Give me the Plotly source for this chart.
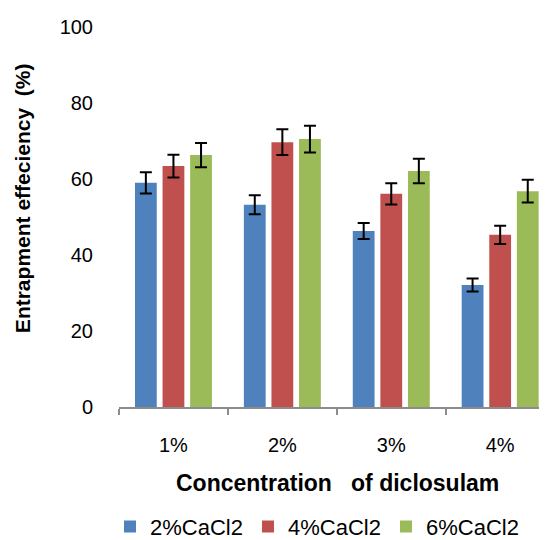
import plotly.graph_objects as go

categories = ["1%", "2%", "3%", "4%"]
series_names = ["2%CaCl2", "4%CaCl2", "6%CaCl2"]
vals_2 = [59.0, 53.2, 46.3, 32.1]
vals_4 = [63.4, 69.7, 56.1, 45.3]
vals_6 = [66.3, 70.5, 62.1, 56.8]
err_2 = [2.8, 2.5, 2.1, 1.7]
err_4 = [3.0, 3.4, 2.8, 2.4]
err_6 = [3.2, 3.5, 3.2, 3.0]
colors = ["#4F81BD", "#C0504D", "#9BBB59"]
yticks = [0, 20, 40, 60, 80, 100]

FONT = "Liberation Sans, Arial, sans-serif"

fig = go.Figure()
for name, vals, errs, col in zip(series_names, [vals_2, vals_4, vals_6],
                                 [err_2, err_4, err_6], colors):
    fig.add_trace(go.Bar(
        x=categories, y=vals, name=name, marker_color=col, marker_line_width=0,
        error_y=dict(type="data", array=errs, visible=True, color="black",
                     thickness=2, width=6),
    ))

fig.update_layout(
    width=539, height=532, autosize=False,
    margin=dict(l=111, r=0, t=19, b=133, autoexpand=False),
    paper_bgcolor="white", plot_bgcolor="white",
    barmode="group", bargap=0.24, bargroupgap=0.21,
    font=dict(family=FONT, color="black", size=20),
    showlegend=True,
    legend=dict(orientation="h", x=-0.021, xanchor="left", y=-0.315, yanchor="middle",
                font=dict(size=22), entrywidth=93, entrywidthmode="pixels",
                itemclick=False, tracegroupgap=0, bgcolor="rgba(0,0,0,0)"),
    annotations=[
        dict(text="<b>Concentration &nbsp; of diclosulam</b>", xref="paper", yref="paper",
             x=0.51, y=-0.2, xanchor="center", yanchor="middle", showarrow=False,
             font=dict(size=23, family=FONT)),
        dict(text="<b>Entrapment effeciency  (%)</b>", xref="paper", yref="paper",
             x=-0.224, y=0.55, xanchor="center", yanchor="middle", showarrow=False,
             textangle=-90, font=dict(size=21, family=FONT)),
    ],
)
fig.update_xaxes(
    type="category", range=[-0.5, 3.43], showline=True, linecolor="#8C8C8C", linewidth=1.5,
    ticks="outside", tickson="boundaries", ticklen=6, tickcolor="#8C8C8C", tickwidth=1.5,
    showgrid=False, zeroline=False, ticklabelstandoff=19, tickfont=dict(size=20),
)
fig.update_yaxes(
    range=[0, 100], tickvals=yticks, showline=False, ticks="", showgrid=False,
    zeroline=False, ticklabelstandoff=25, tickfont=dict(size=20),
)

fig.write_html("out.html")
